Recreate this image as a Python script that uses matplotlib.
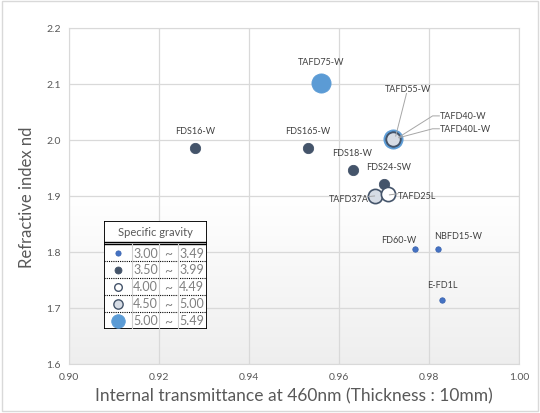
import matplotlib.pyplot as plt
import numpy as np
from matplotlib.patches import Rectangle

plt.rcParams['font.family'] = ['Lato', 'DejaVu Sans']

# glass data: internal transmittance (460nm, 10mm), nd, specific gravity class
glass = ["TAFD75-W", "TAFD55-W", "TAFD40L-W", "TAFD40-W", "FDS16-W", "FDS165-W",
         "FDS18-W", "FDS24-SW", "TAFD37A", "TAFD25L", "FD60-W", "NBFD15-W", "E-FD1L"]
transmittance = [0.956, 0.972, 0.972, 0.972, 0.928, 0.953,
                 0.963, 0.970, 0.968, 0.971, 0.977, 0.982, 0.983]
nd = [2.101, 2.001, 2.001, 2.001, 1.986, 1.986,
      1.946, 1.921, 1.900, 1.903, 1.805, 1.805, 1.715]
sg_class = [4, 4, 2, 3, 1, 1, 1, 1, 3, 2, 0, 0, 0]

sg_low = ["3.00", "3.50", "4.00", "4.50", "5.00"]
sg_high = ["3.49", "3.99", "4.49", "5.00", "5.49"]

x_ticks = [0.90, 0.92, 0.94, 0.96, 0.98, 1.00]
y_ticks = [1.6, 1.7, 1.8, 1.9, 2.0, 2.1, 2.2]

# styles per class
face = ['#4472c4', '#44546a', 'white', '#d6dce5', '#5b9bd5']
edge = ['#3a64b0', '#44546a', '#44546a', '#44546a', '#5b9bd5']
size = [15, 55, 105, 105, 190]
leg_size = [14, 25, 30, 45, 95]

# label placement (x, y, ha, leader line points or None)
labels = {
    "TAFD75-W": (0.956, 2.133, 'center', None),
    "TAFD55-W": (0.9753, 2.092, 'center', [(0.9750, 2.083), (0.9726, 2.007)]),
    "TAFD40-W": (0.9824, 2.043, 'left', [(0.9823, 2.043), (0.9808, 2.043), (0.9733, 2.005)]),
    "TAFD40L-W": (0.9824, 2.020, 'left', [(0.9823, 2.020), (0.9808, 2.020), (0.9733, 2.004)]),
    "FDS16-W": (0.928, 2.009, 'center', None),
    "FDS165-W": (0.953, 2.009, 'center', None),
    "FDS18-W": (0.963, 1.969, 'center', None),
    "FDS24-SW": (0.9660, 1.945, 'left', None),
    "TAFD37A": (0.9666, 1.895, 'right', [(0.9666, 1.899), (0.9679, 1.900)]),
    "TAFD25L": (0.9731, 1.901, 'left', [(0.9712, 1.902), (0.9731, 1.904)]),
    "FD60-W": (0.9733, 1.815, 'center', None),
    "NBFD15-W": (0.9865, 1.822, 'center', None),
    "E-FD1L": (0.983, 1.734, 'center', None),
}

fig = plt.figure(figsize=(5.4, 4.14), dpi=100)
fig.patches.append(Rectangle((0.004, 0.004), 0.992, 0.99, transform=fig.transFigure,
                             fill=False, edgecolor='#d9d9d9', linewidth=1))
ax = fig.add_axes([0.1278, 0.1184, 0.8333, 0.8116])

# background gradient: white above 1.9, fading to light gray at the bottom
yy = np.linspace(2.2, 1.6, 200)
shade = np.where(yy > 1.9, 1.0, 1.0 - (1.9 - yy) / 0.3 * 0.065)
grad = np.repeat(shade[:, None], 2, axis=1)
ax.imshow(np.dstack([grad, grad, grad]), extent=[0.90, 1.00, 1.6, 2.2],
          aspect='auto', zorder=0, interpolation='bilinear')

ax.set_xlim(0.90, 1.00)
ax.set_ylim(1.6, 2.2)
ax.set_xticks(x_ticks)
ax.set_yticks(y_ticks)
ax.set_xticklabels([f"{v:.2f}" for v in x_ticks])
ax.set_yticklabels([f"{v:.1f}" for v in y_ticks])
ax.tick_params(length=0, labelsize=7.5, labelcolor='#595959', pad=6)
ax.grid(True, color='#d9d9d9', linewidth=0.9, zorder=1)
for s in ax.spines.values():
    s.set_color('#d9d9d9')

for i in range(len(glass)):
    c = sg_class[i]
    ax.scatter(transmittance[i], nd[i], s=size[c], c=face[c], edgecolors=edge[c],
               linewidths=1.2 if c in (2, 3) else 0.6, zorder=3 + i * 0.01)

for name, (lx, ly, ha, leader) in labels.items():
    ax.text(lx, ly, name, ha=ha, va='bottom' if leader is None else 'center',
            fontsize=6.5, color='#404040', zorder=5)
    if leader is not None:
        xs, ys = zip(*leader)
        ax.plot(xs, ys, color='#a6a6a6', linewidth=0.7, zorder=4)

ax.set_xlabel("Internal transmittance at 460nm (Thickness : 10mm)", fontsize=12.5,
              color='#595959', labelpad=4)
ax.set_ylabel("Refractive index nd", fontsize=12, color='#595959', labelpad=8)

# specific gravity table
lg = fig.add_axes([104 / 540, (414 - 330) / 414, 103 / 540, 108 / 414])
lg.set_xlim(0, 103)
lg.set_ylim(108, 0)
lg.axis('off')
lg.add_patch(Rectangle((0, 0), 103, 108, facecolor='white', edgecolor='black', linewidth=1.3))
lg.text(51.5, 10.5, "Specific gravity", ha='center', va='center', fontsize=8, color='#595959')
lg.plot([0, 103], [21, 21], color='black', linewidth=1)
lg.plot([0, 103], [23, 23], color='black', linewidth=1)
for yl in [40, 57, 74, 91]:
    lg.plot([0, 103], [yl, yl], color='black', linewidth=0.8, linestyle=(0, (1, 1)))
for xl in [27.7, 55.3, 73.7]:
    lg.plot([xl, xl], [23, 108], color='#d0d0d0', linewidth=0.8)
for r in range(5):
    yc = 31.5 + r * 17
    lg.scatter(14, yc, s=leg_size[r], c=face[r], edgecolors=edge[r],
               linewidths=1.0 if r in (2, 3) else 0.6, zorder=3)
    lg.text(41.5, yc, sg_low[r], ha='center', va='center', fontsize=9, color='#808080')
    lg.text(64.5, yc, "~", ha='center', va='center', fontsize=10, color='#808080')
    lg.text(75, yc, sg_high[r], ha='left', va='center', fontsize=9, color='#808080')

fig.savefig("out.png", dpi=100)
